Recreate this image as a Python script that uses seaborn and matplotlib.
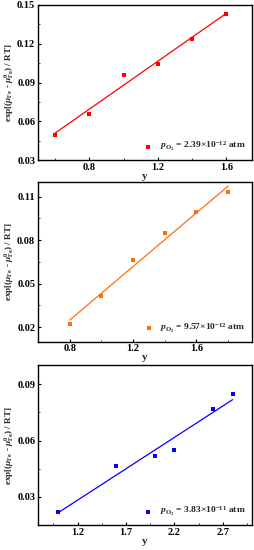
import numpy as np
import pandas as pd
import seaborn as sns
import matplotlib.pyplot as plt
from matplotlib.ticker import FixedLocator

# data
y1 = [0.6, 0.8, 1.0, 1.2, 1.4, 1.6]
exp1 = [0.0497, 0.0660, 0.0960, 0.1045, 0.1238, 0.1430]
y2 = [0.8, 1.0, 1.2, 1.4, 1.6, 1.8]
exp2 = [0.0218, 0.0414, 0.0660, 0.0851, 0.0990, 0.1128]
y3 = [1.0, 1.6, 2.0, 2.2, 2.6, 2.8]
exp3 = [0.0218, 0.0465, 0.0520, 0.0548, 0.0767, 0.0850]

labels = [r'$p_{\mathrm{O_2}}$ = 2.39×10$^{-12}$ atm',
          r'$p_{\mathrm{O_2}}$ = 9.57×10$^{-12}$ atm',
          r'$p_{\mathrm{O_2}}$ = 3.83×10$^{-11}$ atm']
colors = ['#FF0000', '#FF6E10', '#0000FF']

xticks = [[0.8, 1.2, 1.6], [0.8, 1.2, 1.6], [1.2, 1.7, 2.2, 2.7]]
xminor = [[0.6, 1.0, 1.4], [1.0, 1.4, 1.8], [0.95, 1.45, 1.95, 2.45, 2.95]]
yticks = [[0.03, 0.06, 0.09, 0.12, 0.15], [0.02, 0.05, 0.08, 0.11], [0.03, 0.06, 0.09]]
yminor = [[0.045, 0.075, 0.105, 0.135], [0.035, 0.065, 0.095], [0.045, 0.075]]
xlims = [(0.5, 1.75), (0.6, 1.95), (0.79, 3.0)]
ylims = [(0.03, 0.15), (0.01, 0.12), (0.015, 0.10)]

sns.set_style('ticks')
plt.rcParams['font.family'] = ['Liberation Serif', 'DejaVu Serif']
plt.rcParams['font.weight'] = 'bold'
plt.rcParams['mathtext.fontset'] = 'custom'
plt.rcParams['mathtext.rm'] = 'Liberation Serif:bold'
plt.rcParams['mathtext.it'] = 'Liberation Serif:italic:bold'
plt.rcParams['mathtext.bf'] = 'Liberation Serif:bold'

fig = plt.figure(figsize=(2.55, 5.5), dpi=100)
boxes = [[0.149, 0.709, 0.839, 0.282],
         [0.149, 0.379, 0.839, 0.290],
         [0.149, 0.0455, 0.839, 0.290]]

datasets = [(y1, exp1), (y2, exp2), (y3, exp3)]
for i, (xs, ys) in enumerate(datasets):
    ax = fig.add_axes(boxes[i])
    df = pd.DataFrame({'y': xs, 'val': ys})
    sns.regplot(data=df, x='y', y='val', ax=ax, ci=None, marker='s',
                color=colors[i], label=labels[i],
                scatter_kws={'s': 12, 'linewidths': 0, 'alpha': 1},
                line_kws={'linewidth': 0.9})
    ax.set_xlim(xlims[i])
    ax.set_ylim(ylims[i])
    ax.xaxis.set_major_locator(FixedLocator(xticks[i]))
    ax.xaxis.set_minor_locator(FixedLocator(xminor[i]))
    ax.yaxis.set_major_locator(FixedLocator(yticks[i]))
    ax.yaxis.set_minor_locator(FixedLocator(yminor[i]))
    ax.set_xticklabels([f'{t:.1f}' for t in xticks[i]])
    ax.set_yticklabels([f'{t:.2f}' for t in yticks[i]])
    ax.tick_params(which='major', direction='in', length=2.5, width=0.8,
                   labelsize=7.5, pad=2, colors='black')
    ax.tick_params(which='minor', direction='in', length=1.5, width=0.6)
    for s in ax.spines.values():
        s.set_visible(True)
        s.set_linewidth(1.0)
        s.set_color('black')
    ax.set_xlabel('y', fontsize=8, fontweight='bold', labelpad=0)
    ax.set_ylabel(r'exp[($\mu_{\mathrm{Fe}}$ - $\mu^{0}_{\mathrm{Fe}}$) / RT]',
                  fontsize=6.6, fontweight='bold')
    ax.yaxis.set_label_coords(-0.105, 0.5)
    leg = ax.legend(loc='lower right', frameon=False, fontsize=6.8,
                    handletextpad=0.8, borderaxespad=0.3, handlelength=0.8,
                    markerscale=1.0)

fig.savefig('out.png', dpi=100)
